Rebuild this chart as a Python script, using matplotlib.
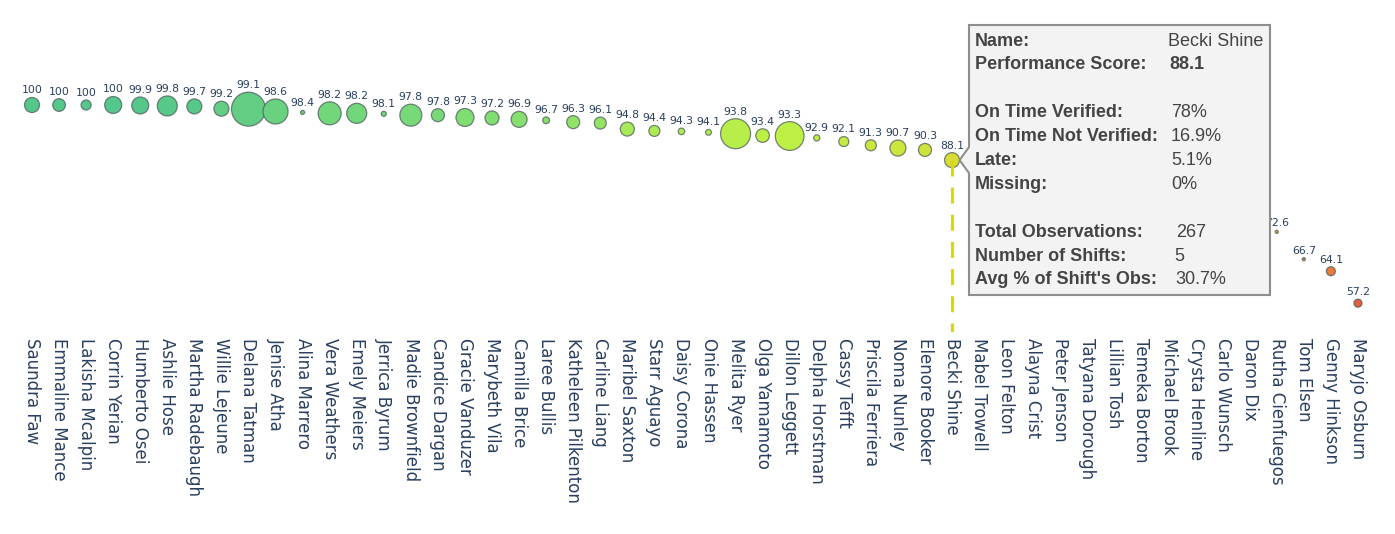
import matplotlib
matplotlib.use("Agg")
import matplotlib.pyplot as plt
import numpy as np
from matplotlib.colors import LinearSegmentedColormap, Normalize
from matplotlib.patches import Polygon

names = [
    "Saundra Faw", "Emmaline Mance", "Lakisha Mcalpin", "Corrin Yerian", "Humberto Osei",
    "Ashlie Hose", "Martha Radebaugh", "Willie Lejeune", "Delana Tatman", "Jenise Atha",
    "Alina Marrero", "Vera Weathers", "Emely Meiers", "Jerrica Byrum", "Madie Brownfield",
    "Candice Dargan", "Gracie Vanduzer", "Marybeth Vila", "Camilla Brice", "Laree Bullis",
    "Katheleen Pilkenton", "Carline Liang", "Maribel Saxton", "Starr Aguayo", "Daisy Corona",
    "Onie Hassen", "Melita Ryer", "Olga Yamamoto", "Dillon Leggett", "Delpha Horstman",
    "Cassy Tefft", "Priscila Ferriera", "Noma Nunley", "Elenore Booker", "Becki Shine",
    "Mabel Trowell", "Leon Felton", "Alayna Crist", "Peter Jenson", "Tatyana Dorough",
    "Lillian Tosh", "Temeka Borton", "Michael Brook", "Crysta Henline", "Carlo Wunsch",
    "Daron Dix", "Rutha Cienfuegos", "Tom Elsen", "Genny Hinkson", "Maryjo Osburn",
]

# performance score (values hidden behind the tooltip are estimates)
scores = [
    100, 100, 100, 100, 99.9, 99.8, 99.7, 99.2, 99.1, 98.6,
    98.4, 98.2, 98.2, 98.1, 97.8, 97.8, 97.3, 97.2, 96.9, 96.7,
    96.3, 96.1, 94.8, 94.4, 94.3, 94.1, 93.8, 93.4, 93.3, 92.9,
    92.1, 91.3, 90.7, 90.3, 88.1, 87.5, 86.9, 86.2, 85.0, 84.1,
    83.0, 81.6, 80.2, 78.5, 76.9, 74.8, 72.6, 66.7, 64.1, 57.2,
]

# total observations -> bubble area
observations = [
    267, 191, 119, 343, 343, 475, 267, 267, 1370, 742,
    19, 628, 475, 30, 574, 201, 384, 233, 304, 55,
    201, 171, 233, 144, 50, 40, 1068, 218, 980, 45,
    119, 144, 305, 201, 267, 150, 90, 200, 60, 120,
    300, 80, 180, 50, 110, 70, 11, 11, 96, 76,
]

hover_name = "Becki Shine"
tooltip_labels = ["Name:", "Performance Score:", "On Time Verified:", "On Time Not Verified:",
                  "Late:", "Missing:", "Total Observations:", "Number of Shifts:",
                  "Avg % of Shift's Obs:"]
tooltip_values = ["Becki Shine", "88.1", "78%", "16.9%", "5.1%", "0%", "267", "5", "30.7%"]
tooltip_rows = [0, 1, 3, 4, 5, 6, 8, 9, 10]

score_stops = [55, 72, 88, 93.5, 97.5, 100]
stop_colors = ["#e8553a", "#eb9a3c", "#d9db34", "#bdf046", "#7edc74", "#55c78b"]

W, H = 1395, 534
fig = plt.figure(figsize=(W / 100, H / 100), dpi=100)

ax_top, ax_bot = 20, 332
ax = fig.add_axes([0, 1 - ax_bot / H, 1, (ax_bot - ax_top) / H])

x = np.arange(len(names))
vals = np.array(scores, dtype=float)
obs = np.array(observations, dtype=float)

lo, hi = score_stops[0], score_stops[-1]
cmap = LinearSegmentedColormap.from_list(
    "perf", [((s - lo) / (hi - lo), c) for s, c in zip(score_stops, stop_colors)])
colors = cmap(Normalize(lo, hi)(vals))

diam_px = 15 * np.sqrt(obs / 267)
diam_pt = diam_px * 0.72
ax.scatter(x, vals, s=diam_pt ** 2, c=colors, edgecolors=(0.3, 0.36, 0.36, 0.75),
           linewidths=0.9, zorder=3)

# pixel mapping: first point at x=32px, spacing ~27.06px; 100 -> y=105px, 4.63px per point
step = 27.06
ax.set_xlim(-32 / step, (W - 32) / step)
ax.set_ylim(100 - (ax_bot - 105) / 4.63, 100 + (105 - ax_top) / 4.63)

# tooltip box in pixels
bl, br, bt, bb = 969, 1270, 25, 295

for xi, v, d in zip(x, vals, diam_pt):
    px = 32 + xi * step
    if bl < px < br and bt < 105 + (100 - v) * 4.63 < bb:
        continue  # covered by the tooltip
    ax.annotate(f"{v:g}", (xi, v), xytext=(0, d / 2 + 1.5), textcoords="offset points",
                ha="center", va="bottom", fontsize=7.8, color="#2a3f5f", zorder=4)

ax.set_xticks(x)
ax.set_xticklabels(names, rotation=-90, fontsize=12, color="#2a3f5f")
ax.tick_params(axis="x", length=0, pad=4)
ax.set_yticks([])
for s in ax.spines.values():
    s.set_visible(False)

hi_idx = names.index(hover_name)
hv = vals[hi_idx]
ax.plot([hi_idx, hi_idx], [hv, ax.get_ylim()[0]], color="#dada00", lw=2.3,
        linestyle=(0, (5, 3.5)), zorder=5, solid_capstyle="butt")

# tooltip drawn in pixel coordinates
ov = fig.add_axes([0, 0, 1, 1], zorder=10)
ov.set_xlim(0, W)
ov.set_ylim(H, 0)
ov.axis("off")
ov.patch.set_alpha(0)

fig.canvas.draw()
tx, ty = ax.transData.transform((hi_idx, hv))
ty = H - ty
tip_x = tx + diam_px[hi_idx] / 2
poly = [(bl, bt), (br, bt), (br, bb), (bl, bb), (bl, ty + 13), (tip_x, ty), (bl, ty - 13)]
ov.add_patch(Polygon(poly, closed=True, facecolor="#f3f3f3", edgecolor="#8e8e8e", lw=1.5))

value_x = [1168, 1169, 1171, 1171, 1171, 1171, 1176, 1174, 1175]
for lab, val, r, vx in zip(tooltip_labels, tooltip_values, tooltip_rows, value_x):
    y = 41 + 23.9 * r
    ov.text(975, y, lab, fontfamily="Liberation Sans", fontweight="bold", fontsize=13,
            color="#444444", va="center", ha="left")
    ov.text(vx, y, val, fontfamily="Liberation Sans", fontsize=13, color="#444444",
            fontweight="bold" if lab.startswith("Performance") else "normal",
            va="center", ha="left")

fig.savefig("out.png", dpi=100)
